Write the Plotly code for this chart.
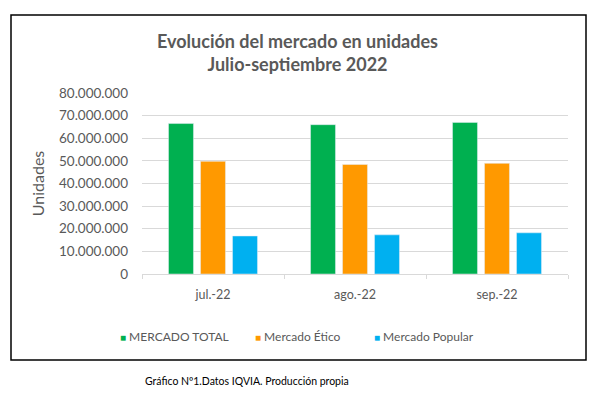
import plotly.graph_objects as go

months = ["jul.-22", "ago.-22", "sep.-22"]
series_names = ["MERCADO TOTAL", "Mercado Ético", "Mercado Popular"]
total = [66500000, 66000000, 67000000]
etico = [49800000, 48400000, 48900000]
popular = [16800000, 17300000, 18200000]
y_ticks = [0, 10000000, 20000000, 30000000, 40000000, 50000000, 60000000, 70000000, 80000000]
colors = ["#00B050", "#FF9900", "#00B0F0"]

FONT = "Lato"
GRAY = "#595959"

fig = go.Figure()
for name, vals, col in zip(series_names, [total, etico, popular], colors):
    fig.add_trace(go.Bar(name=name, x=months, y=vals, marker_color=col, showlegend=False))

# page places the figure 8px in from the top-left corner of the window
OFF = 8
W, H = 611 - OFF, 393 - OFF
L, R, T, B = 142 - OFF, 43, 93 - OFF, 119
pw, ph = W - L - R, H - T - B

def px(x):
    return (x - OFF - L) / pw

def py(y):
    return (H - B - (y - OFF)) / ph

# legend drawn as colored squares + labels
legend_x = [119, 254, 373]
legend_ann = []
for name, col, lx in zip(series_names, colors, legend_x):
    legend_ann.append(dict(
        text=f"<span style='color:{col};font-size:10px'>■</span> {name}",
        xref="paper", yref="paper", x=px(lx - 1), y=py(336),
        xanchor="left", yanchor="middle", showarrow=False,
        font=dict(family=FONT, size=12, color=GRAY),
    ))

fig.update_layout(
    width=W, height=H,
    margin=dict(l=L, r=R, t=T, b=B, autoexpand=False),
    paper_bgcolor="white", plot_bgcolor="white",
    separators=",.",
    barmode="group", bargap=0.324, bargroupgap=0.22,
    font=dict(family=FONT, color=GRAY, size=12),
    title=dict(
        text="<b>Evolución del mercado en unidades<br>Julio-septiembre 2022</b>",
        x=(297.5 - OFF) / W, xanchor="center", xref="container",
        y=1 - (47.5 - OFF) / H, yanchor="middle", yref="container",
        font=dict(family=FONT, size=18, color=GRAY),
    ),
    showlegend=False,
    xaxis=dict(
        showgrid=False, showline=True, linecolor="#D9D9D9", linewidth=1,
        ticks="outside", tickson="boundaries", ticklen=4, tickcolor="#D9D9D9",
        ticklabelstandoff=9,
        tickfont=dict(family=FONT, size=12.5, color=GRAY),
    ),
    yaxis=dict(
        range=[0, 80000000], tickvals=y_ticks, tickformat=",d",
        showgrid=True, gridcolor="#D9D9D9", gridwidth=1,
        zeroline=False, showline=False,
        ticklabelstandoff=13,
        tickfont=dict(family=FONT, size=13.5, color=GRAY),
        title=dict(text="Unidades", font=dict(family=FONT, size=16, color=GRAY), standoff=10),
    ),
    shapes=[dict(
        type="rect", xref="paper", yref="paper",
        x0=px(11), x1=px(586), y0=py(360), y1=py(15),
        line=dict(color="black", width=1.5), fillcolor="rgba(0,0,0,0)", layer="below",
    )],
    annotations=legend_ann + [dict(
        text="Gráfico Nº1.Datos IQVIA. Producción propia",
        xref="paper", yref="paper", x=px(143), y=py(381),
        xanchor="left", yanchor="middle", showarrow=False,
        font=dict(family=FONT, size=10.5, color="black"),
    )],
)

fig.write_html("out.html")
